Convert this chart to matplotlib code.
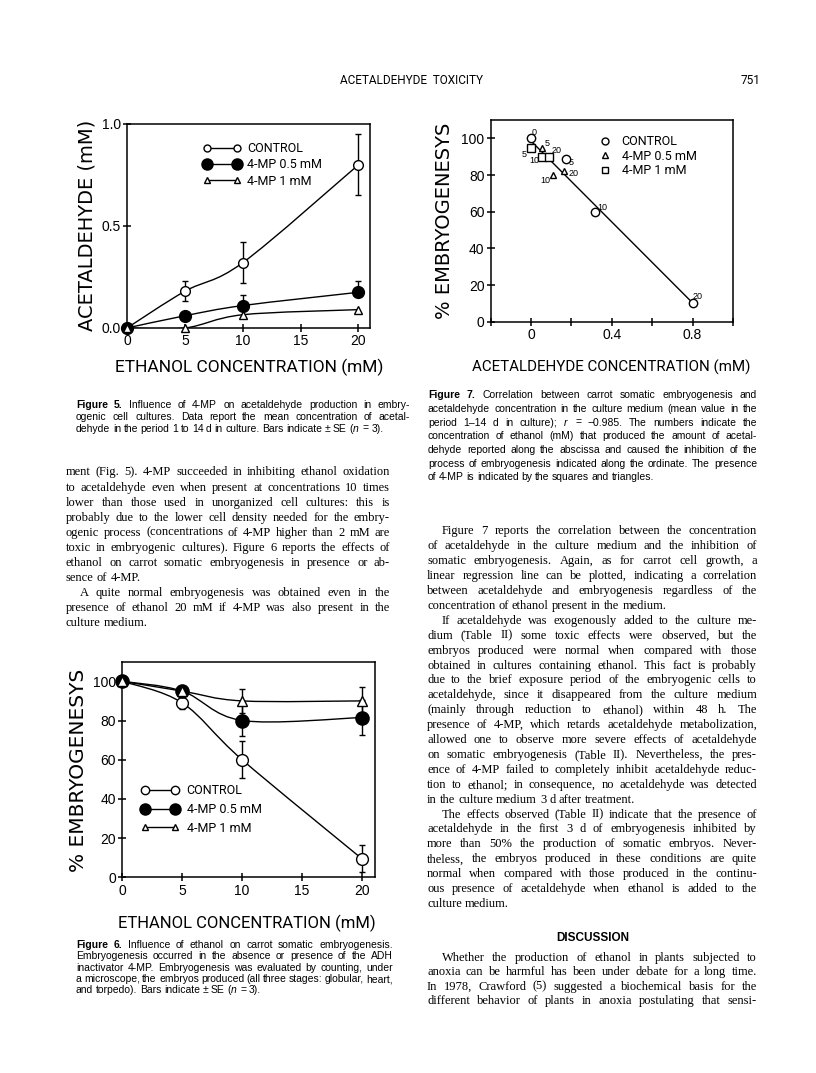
import numpy as np
import matplotlib
matplotlib.use('Agg')
import matplotlib.pyplot as plt
from matplotlib.lines import Line2D
from matplotlib.path import Path
from matplotlib.patches import PathPatch

W, H = 816, 1073

plt.rcParams['font.family'] = ['Liberation Sans', 'DejaVu Sans']
plt.rcParams['mathtext.fontset'] = 'custom'
plt.rcParams['mathtext.it'] = 'Liberation Sans:italic'
plt.rcParams['mathtext.rm'] = 'Liberation Sans'

NARROW = ['Roboto', 'Liberation Sans']
WIDE = ['DejaVu Sans']
SERIF = ['Liberation Serif', 'DejaVu Serif']

# ---- Figure 5: acetaldehyde (mM) vs ethanol (mM)
ethanol = [0, 5, 10, 20]
acet_control = [0.0, 0.18, 0.32, 0.80]
acet_control_err = [0.0, 0.05, 0.10, 0.15]
acet_mp05 = [0.0, 0.06, 0.11, 0.175]
acet_mp05_err = [0.0, 0.0, 0.054, 0.055]
acet_mp1 = [0.0, 0.0, 0.065, 0.09]

# ---- Figure 6: % embryogenesis vs ethanol (mM)
emb_control = [100, 89, 60, 9.5]
emb_control_err = [0, 3, 9.5, 7]
emb_mp05 = [100, 95, 80, 81.5]
emb_mp05_err = [0, 0, 8, 9]
emb_mp1 = [100, 95, 90, 90]
emb_mp1_err = [0, 0, 6, 7]

# ---- Figure 7: % embryogenesis vs acetaldehyde (mM), labels = ethanol mM
f7_control_x = [0.0, 0.175, 0.316, 0.80]
f7_control_y = [100, 89, 60, 10]
f7_control_lab = ['0', '5', '10', '20']
f7_mp05_x = [0.055, 0.108, 0.162]
f7_mp05_y = [95, 80, 82]
f7_mp05_lab = ['5', '10', '20']
f7_mp1_x = [0.0, 0.055, 0.088]
f7_mp1_y = [95, 90, 90]
f7_mp1_lab = ['5', '10', '20']

series_names = ['CONTROL', '4-MP 0.5 mM', '4-MP 1 mM']

# ---- page text
cap5 = ["Figure 5. Influence of 4-MP on acetaldehyde production in embry-",
        "ogenic cell cultures. Data report the mean concentration of acetal-",
        "dehyde in the period 1 to 14 d in culture. Bars indicate \u00b1 SE ($n$ = 3)."]

cap6 = ["Figure 6. Influence of ethanol on carrot somatic embryogenesis.",
        "Embryogenesis occurred in the absence or presence of the ADH",
        "inactivator 4-MP. Embryogenesis was evaluated by counting, under",
        "a microscope, the embryos produced (all three stages: globular, heart,",
        "and torpedo). Bars indicate \u00b1 SE ($n$ = 3)."]

cap7 = ["Figure 7. Correlation between carrot somatic embryogenesis and",
        "acetaldehyde concentration in the culture medium (mean value in the",
        "period 1\u201314 d in culture); $r$ = \u22120.985. The numbers indicate the",
        "concentration of ethanol (mM) that produced the amount of acetal-",
        "dehyde reported along the abscissa and caused the inhibition of the",
        "process of embryogenesis indicated along the ordinate. The presence",
        "of 4-MP is indicated by the squares and triangles."]

left_p1 = ["ment (Fig. 5). 4-MP succeeded in inhibiting ethanol oxidation",
           "to acetaldehyde even when present at concentrations 10 times",
           "lower than those used in unorganized cell cultures: this is",
           "probably due to the lower cell density needed for the embry-",
           "ogenic process (concentrations of 4-MP higher than 2 mM are",
           "toxic in embryogenic cultures). Figure 6 reports the effects of",
           "ethanol on carrot somatic embryogenesis in presence or ab-",
           "sence of 4-MP."]
left_p2 = ["A quite normal embryogenesis was obtained even in the",
           "presence of ethanol 20 mM if 4-MP was also present in the",
           "culture medium."]

right_p1 = ["Figure 7 reports the correlation between the concentration",
            "of acetaldehyde in the culture medium and the inhibition of",
            "somatic embryogenesis. Again, as for carrot cell growth, a",
            "linear regression line can be plotted, indicating a correlation",
            "between acetaldehyde and embryogenesis regardless of the",
            "concentration of ethanol present in the medium."]
right_p2 = ["If acetaldehyde was exogenously added to the culture me-",
            "dium (Table II) some toxic effects were observed, but the",
            "embryos produced were normal when compared with those",
            "obtained in cultures containing ethanol. This fact is probably",
            "due to the brief exposure period of the embryogenic cells to",
            "acetaldehyde, since it disappeared from the culture medium",
            "(mainly through reduction to ethanol) within 48 h. The",
            "presence of 4-MP, which retards acetaldehyde metabolization,",
            "allowed one to observe more severe effects of acetaldehyde",
            "on somatic embryogenesis (Table II). Nevertheless, the pres-",
            "ence of 4-MP failed to completely inhibit acetaldehyde reduc-",
            "tion to ethanol; in consequence, no acetaldehyde was detected",
            "in the culture medium 3 d after treatment."]
right_p3 = ["The effects observed (Table II) indicate that the presence of",
            "acetaldehyde in the first 3 d of embryogenesis inhibited by",
            "more than 50% the production of somatic embryos. Never-",
            "theless, the embryos produced in these conditions are quite",
            "normal when compared with those produced in the continu-",
            "ous presence of acetaldehyde when ethanol is added to the",
            "culture medium."]
discussion = ["Whether the production of ethanol in plants subjected to",
              "anoxia can be harmful has been under debate for a long time.",
              "In 1978, Crawford (5) suggested a biochemical basis for the",
              "different behavior of plants in anoxia postulating that sensi-"]


fig = plt.figure(figsize=(W / 100, H / 100), dpi=100)
renderer = fig.canvas.get_renderer()


def fx(x):
    return x / W


def fy(y):
    return 1 - y / H


def px_axes(x0, y0, x1, y1):
    return fig.add_axes([x0 / W, 1 - y1 / H, (x1 - x0) / W, (y1 - y0) / H])


def smooth(ax, x, y):
    # cubic Bezier through the data points (Catmull-Rom tangents)
    p = np.column_stack([x, y]).astype(float)
    ext = np.vstack([p[0], p, p[-1]])
    verts, codes = [p[0]], [Path.MOVETO]
    for i in range(len(p) - 1):
        c1 = ext[i + 1] + (ext[i + 2] - ext[i]) / 6
        c2 = ext[i + 2] - (ext[i + 3] - ext[i + 1]) / 6
        verts += [c1, c2, p[i + 1]]
        codes += [Path.CURVE4] * 3
    ax.add_patch(PathPatch(Path(verts, codes), fill=False, lw=1, ec='black', zorder=2))


def style(ax, xlim, ylim, xticks, yticks, xlabels, ylabels, size):
    ax.set_xlim(*xlim)
    ax.set_ylim(*ylim)
    ax.set_xticks(xticks, labels=xlabels)
    ax.set_yticks(yticks, labels=ylabels)
    for s in ax.spines.values():
        s.set_linewidth(1.1)
    ax.tick_params(direction='inout', length=6, width=1.1, labelsize=size, pad=1.5)


def put_line(line, x0, x1, y, family, size, justify, bold=0):
    words = line.split(' ')
    ts = [fig.text(fx(x0), fy(y), w, family=family, fontsize=size, va='baseline',
                   weight='bold' if k < bold else 'normal') for k, w in enumerate(words)]
    widths = [t.get_window_extent(renderer).width for t in ts]
    total = sum(widths)
    n = len(ts)
    gap = size * 100 / 72 * 0.25
    if justify and n > 1:
        gap = (x1 - x0 - total) / (n - 1)
        if gap < 1.8:
            f = (x1 - x0 - 1.8 * (n - 1)) / total
            for t in ts:
                t.set_fontsize(size * f)
            widths = [t.get_window_extent(renderer).width for t in ts]
            gap = (x1 - x0 - sum(widths)) / (n - 1)
    x = x0
    for t, wd in zip(ts, widths):
        t.set_x(fx(x))
        x += wd + gap


def paragraph(lines, x0, x1, y0, step, family, size, indent=0, ragged_last=True, bold=0):
    base = size * 100 / 72 * 0.3
    for i, line in enumerate(lines):
        xs = x0 + (indent if i == 0 else 0)
        last = ragged_last and i == len(lines) - 1
        put_line(line, xs, x1, y0 + i * step + base, family, size, not last, bold if i == 0 else 0)


# ================= Figure 5 =================
ax5 = px_axes(127, 124, 370, 328)
smooth(ax5, ethanol, acet_control)
smooth(ax5, ethanol, acet_mp05)
smooth(ax5, ethanol, acet_mp1)
ax5.errorbar(ethanol, acet_control, yerr=acet_control_err, fmt='none', ecolor='black',
             elinewidth=1, capsize=2, zorder=3)
ax5.errorbar(ethanol, acet_mp05, yerr=[np.zeros(4), acet_mp05_err], fmt='none', ecolor='black',
             elinewidth=1, capsize=2, zorder=3)
ax5.plot(ethanol, acet_control, 'o', ms=7, mfc='white', mec='black', mew=1, zorder=4, clip_on=False)
ax5.plot(ethanol, acet_mp05, 'o', ms=8.5, mfc='black', mec='black', zorder=4, clip_on=False)
ax5.plot(ethanol, acet_mp1, '^', ms=5.5, mfc='white', mec='black', mew=1, zorder=4, clip_on=False)
style(ax5, (0, 21), (0, 1.0), [0, 5, 10, 15, 20], [0, 0.5, 1.0],
      ['0', '5', '10', '15', '20'], ['0.0', '0.5', '1.0'], 10)
h5 = [Line2D([], [], color='black', lw=1, marker='o', ms=5, mfc='white', mec='black'),
      Line2D([], [], color='black', lw=1, marker='o', ms=8, mfc='black', mec='black'),
      Line2D([], [], color='black', lw=1, marker='^', ms=4.5, mfc='white', mec='black')]
ax5.legend(h5, series_names, loc='upper left', bbox_to_anchor=(fx(203.2), fy(142)),
           bbox_transform=fig.transFigure, frameon=False, numpoints=2, handlelength=3.0,
           handletextpad=0.5, labelspacing=0.27, borderpad=0, borderaxespad=0,
           prop={'family': NARROW, 'size': 9})
fig.text(fx(87), fy(225), 'ACETALDEHYDE (mM)', family=WIDE, fontsize=14, rotation=90,
         ha='center', va='center')
fig.text(fx(249), fy(367), 'ETHANOL CONCENTRATION (mM)', family=NARROW, fontsize=12.5,
         ha='center', va='center')

# ================= Figure 6 =================
ax6 = px_axes(122.3, 661.7, 375, 877.3)
smooth(ax6, ethanol, emb_control)
smooth(ax6, ethanol, emb_mp05)
smooth(ax6, ethanol, emb_mp1)
ax6.errorbar(ethanol, emb_control, yerr=emb_control_err, fmt='none', ecolor='black',
             elinewidth=1, capsize=2, zorder=3)
ax6.errorbar(ethanol, emb_mp05, yerr=emb_mp05_err, fmt='none', ecolor='black',
             elinewidth=1, capsize=2, zorder=3)
ax6.errorbar(ethanol, emb_mp1, yerr=emb_mp1_err, fmt='none', ecolor='black',
             elinewidth=1, capsize=2, zorder=3)
ax6.plot(ethanol, emb_control, 'o', ms=8.5, mfc='white', mec='black', mew=1, zorder=4, clip_on=False)
ax6.plot(ethanol, emb_mp05, 'o', ms=9.5, mfc='black', mec='black', zorder=4, clip_on=False)
ax6.plot(ethanol, emb_mp1, '^', ms=6.5, mfc='white', mec='black', mew=1, zorder=4, clip_on=False)
style(ax6, (0, 21.1), (0, 110), [0, 5, 10, 15, 20], [0, 20, 40, 60, 80, 100],
      ['0', '5', '10', '15', '20'], ['0', '20', '40', '60', '80', '100'], 10)
h6 = [Line2D([], [], color='black', lw=1, marker='o', ms=6, mfc='white', mec='black'),
      Line2D([], [], color='black', lw=1, marker='o', ms=8, mfc='black', mec='black'),
      Line2D([], [], color='black', lw=1, marker='^', ms=5, mfc='white', mec='black')]
ax6.legend(h6, series_names, loc='upper left', bbox_to_anchor=(fx(141.2), fy(784.5)),
           bbox_transform=fig.transFigure, frameon=False, numpoints=2, handlelength=3.0,
           handletextpad=0.64, labelspacing=0.45, borderpad=0, borderaxespad=0,
           prop={'family': NARROW, 'size': 9})
fig.text(fx(78), fy(770), '% EMBRYOGENESYS', family=WIDE, fontsize=14.5, rotation=90,
         ha='center', va='center')
fig.text(fx(247), fy(923), 'ETHANOL CONCENTRATION (mM)', family=NARROW, fontsize=12,
         ha='center', va='center')

# ================= Figure 7 =================
ax7 = px_axes(490.7, 120, 733, 321.7)
all_x = np.array(f7_control_x + f7_mp05_x + f7_mp1_x)
all_y = np.array(f7_control_y + f7_mp05_y + f7_mp1_y)
slope, icpt = np.polyfit(all_x, all_y, 1)
xl = np.array([all_x.min(), all_x.max()])
ax7.plot(xl, icpt + slope * xl, color='black', lw=1, zorder=2)
ax7.plot(f7_control_x, f7_control_y, 'o', ms=6, mfc='white', mec='black', mew=1, zorder=4)
ax7.plot(f7_mp05_x, f7_mp05_y, '^', ms=5, mfc='white', mec='black', mew=1, zorder=4)
ax7.plot(f7_mp1_x, f7_mp1_y, 's', ms=5.5, mfc='white', mec='black', mew=1, zorder=4)
lab_off = {'c': [(2.4, 4.3), (3.6, -3.1), (5.3, 2.7), (3.6, 5.3)],
           't': [(3.6, 2.9), (-5.5, -4.3), (7.2, -1.2)],
           's': [(-4.8, -5.3), (-6.0, -3.1), (5.5, 4.1)]}
for key, xs, ys, labs in [('c', f7_control_x, f7_control_y, f7_control_lab),
                          ('t', f7_mp05_x, f7_mp05_y, f7_mp05_lab),
                          ('s', f7_mp1_x, f7_mp1_y, f7_mp1_lab)]:
    for (xv, yv, lb, off) in zip(xs, ys, labs, lab_off[key]):
        ax7.annotate(lb, (xv, yv), xytext=off, textcoords='offset points', ha='center',
                     va='center', fontsize=6.5)
style(ax7, (-0.2, 1.0), (0, 110), [-0.2, 0, 0.2, 0.4, 0.6, 0.8, 1.0], [0, 20, 40, 60, 80, 100],
      ['', '0', '', '0.4', '', '0.8', ''], ['0', '20', '40', '60', '80', '100'], 10)
h7 = [Line2D([], [], ls='none', marker='o', ms=5, mfc='white', mec='black'),
      Line2D([], [], ls='none', marker='^', ms=4.5, mfc='white', mec='black'),
      Line2D([], [], ls='none', marker='s', ms=4.5, mfc='white', mec='black')]
ax7.legend(h7, series_names, loc='upper left', bbox_to_anchor=(fx(598.75), fy(135)),
           bbox_transform=fig.transFigure, frameon=False, numpoints=1, handlelength=1.0,
           handletextpad=0.84, labelspacing=0.13, borderpad=0, borderaxespad=0,
           prop={'family': NARROW, 'size': 9})
fig.text(fx(445), fy(221), '% EMBRYOGENESYS', family=WIDE, fontsize=14, rotation=90,
         ha='center', va='center')
fig.text(fx(611), fy(367), 'ACETALDEHYDE CONCENTRATION (mM)', family=NARROW, fontsize=10.9,
         ha='center', va='center')

# ================= page text =================
fig.text(fx(412), fy(80), 'ACETALDEHYDE  TOXICITY', family=NARROW, fontsize=8.5,
         ha='center', va='center')
fig.text(fx(750), fy(80), '751', family=NARROW, fontsize=8.5, ha='center', va='center')

paragraph(cap5, 76, 410, 405, 11.7, 'Liberation Sans', 7.5, bold=2)
paragraph(cap6, 76, 393, 945, 11.3, 'Liberation Sans', 7.5, bold=2)
paragraph(cap7, 428, 757, 395, 13.7, 'Liberation Sans', 7.5, bold=2)

paragraph(left_p1, 66, 390, 471.7, 15.06, SERIF, 9)
paragraph(left_p2, 66, 390, 471.7 + 8 * 15.06, 15.06, SERIF, 9, indent=14)

paragraph(right_p1, 427, 757, 530.7, 14.9, SERIF, 9, indent=15)
paragraph(right_p2, 427, 757, 530.7 + 6 * 14.9, 14.9, SERIF, 9, indent=15)
paragraph(right_p3, 427, 757, 530.7 + 19 * 14.9, 14.9, SERIF, 9, indent=15)

fig.text(fx(593), fy(938.3), 'DISCUSSION', family='Liberation Sans', weight='bold',
         fontsize=8.5, ha='center', va='center')
paragraph(discussion, 427, 757, 957.3, 14.3, SERIF, 9, indent=15, ragged_last=False)

fig.savefig('out.png', dpi=100)
